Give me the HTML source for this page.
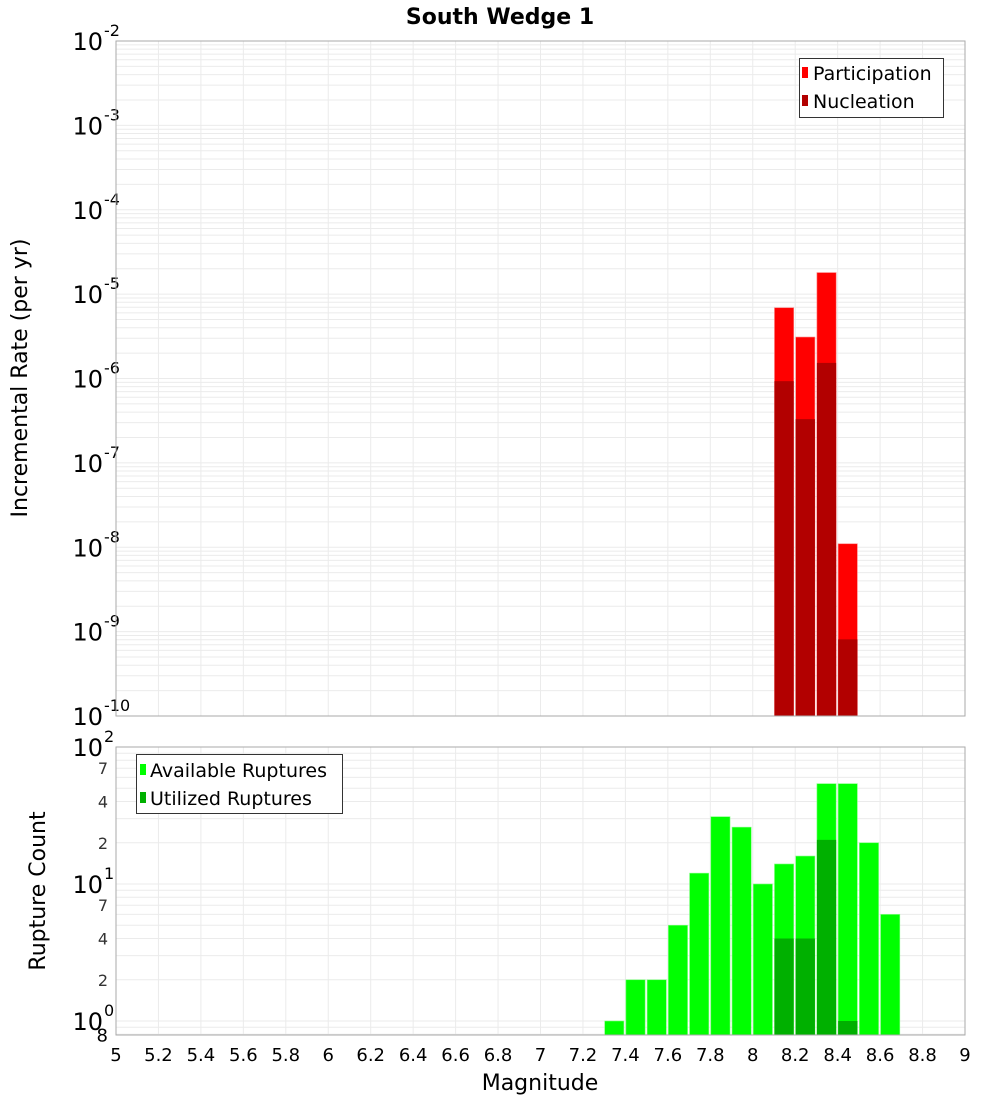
<!DOCTYPE html>
<html><head><meta charset="utf-8"><style>
body{margin:0;background:#fff;}
svg text{font-family:"DejaVu Sans","Liberation Sans",sans-serif;}
</style></head><body>
<svg id="c" width="1000" height="1100" xmlns="http://www.w3.org/2000/svg">
<rect width="1000" height="1100" fill="#fff"/>
<text x="500" y="24" text-anchor="middle" font-size="22" font-weight="bold">South Wedge 1</text>
<g id="topPanel"></g><g id="botPanel"></g>
<text x="27" y="378" transform="rotate(-90 27 378)" text-anchor="middle" font-size="22">Incremental Rate (per yr)</text>
<text x="45" y="891" transform="rotate(-90 45 891)" text-anchor="middle" font-size="22">Rupture Count</text>
<text x="540" y="1090" text-anchor="middle" font-size="22">Magnitude</text>
</svg>
<script>
const mags=[7.3,7.4,7.5,7.6,7.7,7.8,7.9,8.0,8.1,8.2,8.3,8.4,8.5,8.6];
const available=[1,2,2,5,12,31,26,10,14,16,54,54,20,6];
const utilized=[0,0,0,0,0,0,0,0,4,4,21,1,0,0];
const rateMags=[8.1,8.2,8.3,8.4];
const participation=[6.9e-6,3.1e-6,1.8e-5,1.1e-8];
const nucleation=[9.3e-7,3.3e-7,1.53e-6,8.1e-10];
const xTicks=[5,5.2,5.4,5.6,5.8,6,6.2,6.4,6.6,6.8,7,7.2,7.4,7.6,7.8,8,8.2,8.4,8.6,8.8,9];
const topDecades=[-10,-9,-8,-7,-6,-5,-4,-3,-2];
const botDecades=[0,1,2];
const botMinorLabels=[2,4,7];

const NS="http://www.w3.org/2000/svg";
const X0=116,X1=965;
const xS=m=>X0+(m-5)/4*(X1-X0);
const TY0=41,TY1=716;
const yT=v=>TY0+(-2-Math.log10(v))/8*(TY1-TY0);
const BY0=747,BY1=1035,BPD=137;
const yB=v=>BY0+(2-Math.log10(v))*BPD;
function el(p,t,a,txt){const e=document.createElementNS(NS,t);for(const k in a)e.setAttribute(k,a[k]);if(txt!==undefined)e.textContent=txt;p.appendChild(e);return e;}
const topG=document.getElementById('topPanel'),botG=document.getElementById('botPanel');

// top panel
el(topG,'rect',{x:X0,y:TY0,width:X1-X0,height:TY1-TY0,fill:'#fff'});
topDecades.forEach(d=>{
  for(let k=1;k<=9;k++){const v=k*Math.pow(10,d);if(d===-2&&k>1)break;const yy=yT(v);
    const g=el(topG,'line',{x1:X0,x2:X1,y1:yy,y2:yy,stroke:'#ebebeb','stroke-width':1});
    
    }
  const yy=yT(Math.pow(10,d));
  const t=el(topG,'text',{x:103,y:yy+9,'text-anchor':'end','font-size':24},'10');
  
  
  el(topG,'text',{x:104,y:yy-5,'font-size':16},String(d));
});
xTicks.forEach(m=>{const g=el(topG,'line',{x1:xS(m),x2:xS(m),y1:TY0,y2:TY1,stroke:'#ebebeb'});
  
  });
rateMags.forEach((m,i)=>{
  const b=el(topG,'rect',{x:xS(m)+0.5,y:yT(participation[i]),width:xS(m+0.1)-xS(m)-2,height:TY1-yT(participation[i]),fill:'#ff0000',stroke:'#ff8080','stroke-width':0.6});
  
  
  const n=el(topG,'rect',{x:xS(m)+0.5,y:yT(nucleation[i]),width:xS(m+0.1)-xS(m)-2,height:TY1-yT(nucleation[i]),fill:'#b20000'});
  
  
});
el(topG,'rect',{x:X0,y:TY0,width:X1-X0,height:TY1-TY0,fill:'none',stroke:'#aaa'});
const lg=el(topG,'g',{});


el(lg,'rect',{x:799.5,y:58.5,width:144,height:59,fill:'#fff',stroke:'#333'});
el(lg,'rect',{x:802,y:67,width:6,height:11,fill:'#ff0000'});
el(lg,'text',{x:813,y:80,'font-size':19},'Participation');
el(lg,'rect',{x:802,y:95,width:6,height:11,fill:'#b20000'});
el(lg,'text',{x:813,y:108,'font-size':19},'Nucleation');

// bottom panel
for(let d=-1;d<2;d++){for(let k=1;k<=9;k++){const v=k*Math.pow(10,d);const yy=yB(v);if(yy>BY1||yy<BY0)continue;
  const g=el(botG,'line',{x1:X0,x2:X1,y1:yy,y2:yy,stroke:'#ebebeb'});
  
  }}
botDecades.forEach(d=>{const yy=yB(Math.pow(10,d));
  const t=el(botG,'text',{x:103,y:yy+9,'text-anchor':'end','font-size':24},'10');
  
  
  el(botG,'text',{x:104,y:yy-5,'font-size':16},String(d));
  botMinorLabels.forEach(k=>{if(d>=2)return;const y2=yB(k*Math.pow(10,d));
    el(botG,'text',{x:108,y:y2+6,'text-anchor':'end','font-size':16,fill:'#333'},String(k));});
});
el(botG,'text',{x:108,y:yB(0.8)+7,'text-anchor':'end','font-size':18},'8');
xTicks.forEach(m=>{const g=el(botG,'line',{x1:xS(m),x2:xS(m),y1:BY0,y2:BY1,stroke:'#ebebeb'});
  
  
  const t=el(botG,'text',{x:xS(m),y:1061,'text-anchor':'middle','font-size':18},String(m));
  
  });
mags.forEach((m,i)=>{
  const b=el(botG,'rect',{x:xS(m)+0.5,y:yB(available[i]),width:xS(m+0.1)-xS(m)-2,height:BY1-yB(available[i]),fill:'#00ff00',stroke:'#80ff80','stroke-width':0.6});
  
  
  if(utilized[i]>0){const u=el(botG,'rect',{x:xS(m)+0.5,y:yB(utilized[i]),width:xS(m+0.1)-xS(m)-2,height:BY1-yB(utilized[i]),fill:'#00b000'});
  
  }
});
el(botG,'rect',{x:X0,y:BY0,width:X1-X0,height:BY1-BY0,fill:'none',stroke:'#aaa'});
const lb=el(botG,'g',{});


el(lb,'rect',{x:136.5,y:754.5,width:206,height:59,fill:'#fff',stroke:'#333'});
el(lb,'rect',{x:140,y:764,width:6,height:11,fill:'#00ff00'});
el(lb,'text',{x:150,y:777,'font-size':19},'Available Ruptures');
el(lb,'rect',{x:140,y:792,width:6,height:11,fill:'#00b000'});
el(lb,'text',{x:150,y:805,'font-size':19},'Utilized Ruptures');
</script>
</body></html>
